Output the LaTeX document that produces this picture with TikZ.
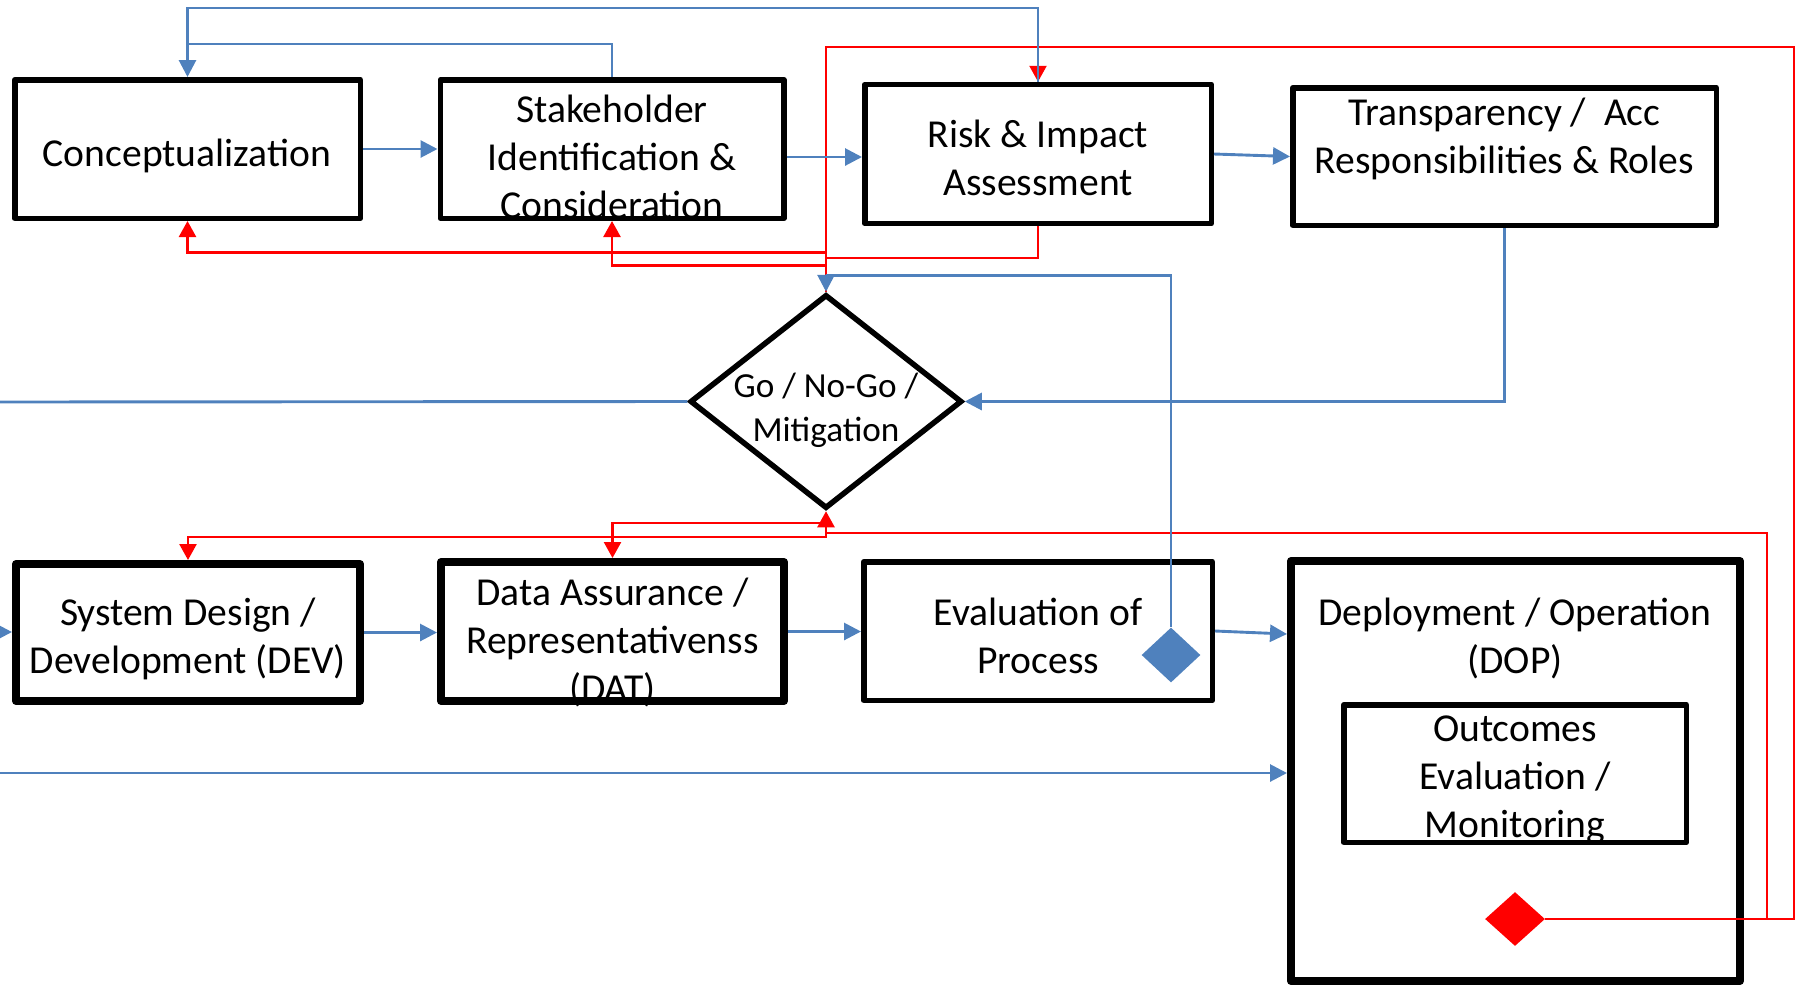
\documentclass[tikz,border=0pt]{standalone}
\usepackage{fontspec}
\setmainfont{Carlito}
\usetikzlibrary{arrows.meta,shapes.geometric}
\definecolor{ablue}{RGB}{79,129,189}
\tikzset{
  box/.style={draw=black, rectangle, line width=2.75pt, line join=round, inner sep=0pt},
  heavybox/.style={box, line width=4pt},
  gatebox/.style={draw=black, diamond, line width=2.75pt, inner sep=0pt},
  lbl/.style={align=center, inner sep=0pt, font=\fontsize{19.8pt}{24pt}\selectfont},
  smalllbl/.style={align=center, inner sep=0pt, font=\fontsize{17.6pt}{22pt}\selectfont},
  bline/.style={draw=ablue, line width=1.45pt},
  barrow/.style={bline, -{Triangle[length=8.5pt,width=8.5pt]}},
  rline/.style={draw=red, line width=1.2pt},
  rarrow/.style={rline, -{Triangle[length=8pt,width=8.5pt]}},
}
\begin{document}
\begin{tikzpicture}[x=0.5pt,y=-0.5pt]
\path[use as bounding box] (0,0) rectangle (1804,987);

% process boxes
\node[box, minimum width=172.75pt, minimum height=69.25pt] (concept) at (187.5,149) {};
\node[box, minimum width=171.75pt, minimum height=69.25pt] (stake) at (612,149) {};
\node[box, minimum width=173.25pt, minimum height=69.5pt] (risk) at (1038,154) {};
\node[box, minimum width=211.75pt, minimum height=68.75pt] (transp) at (1504.5,156.5) {};
\node[heavybox, minimum width=172pt, minimum height=68.5pt] (dev) at (188,632.5) {};
\node[heavybox, minimum width=171.5pt, minimum height=69.5pt] (dat) at (612.5,631.5) {};
\node[box, minimum width=174.25pt, minimum height=69.25pt] (eval) at (1038,631) {};
\node[heavybox, minimum width=224.5pt, minimum height=210pt] (dop) at (1515.5,771) {};
\node[box, minimum width=171.25pt, minimum height=68.75pt] (outc) at (1515,773.5) {};

% decision and markers
\node[gatebox, minimum width=136pt, minimum height=107pt] (gate) at (826,401.5) {};
\node[diamond, fill=ablue, inner sep=0pt, minimum width=29.5pt, minimum height=27.5pt] (bd) at (1171,655) {};
\node[diamond, fill=red, inner sep=0pt, minimum width=30pt, minimum height=27pt] (rd) at (1515,919) {};

% routing levels
\coordinate (yA) at (0,8);
\coordinate (yB) at (0,44);
\coordinate (yR) at (0,47);
\coordinate (ySR) at (0,157);
\coordinate (yC) at (0,252.5);
\coordinate (yRk) at (0,258);
\coordinate (yS) at (0,265.5);
\coordinate (yF) at (0,275.5);
\coordinate (yDa) at (0,523);
\coordinate (yM) at (0,533);
\coordinate (yDe) at (0,537);
\coordinate (yED) at (0,634);
\coordinate (xR1) at (1767,0);
\coordinate (xR2) at (1794,0);
\coordinate (inDev) at (-20,632);
\coordinate (inDop) at (-20,773);
\coordinate (outL) at (-20,402);

% red feedback paths
\draw[rline] (rd.east) -| (xR2 |- yR) -- (gate.north |- yR) -- (gate.north);
\draw[rarrow] (risk.north |- yR) -- (risk.north);
\draw[rarrow] (gate.north |- yC) -| (concept.south);
\draw[rarrow] (gate.north |- yS) -| (stake.south);
\draw[rline] (risk.south) |- (gate.north |- yRk);
\draw[rarrow] (rd.east) -| (xR1 |- yM) -- (gate.south |- yM) -- (gate.south);
\draw[rarrow] (gate.south |- yDa) -| (dat.north);
\draw[rarrow] (gate.south |- yM) -- (gate.south |- yDe) -| (dev.north);

% blue flow paths
\draw[barrow] (concept) -- (stake);
\draw[barrow] (stake.east |- ySR) -- (risk.west |- ySR);
\draw[barrow] (risk.east) -- (transp.west);
\draw[barrow] (transp.south) |- (gate.east);
\draw[bline] (gate.west) -- (outL);
\draw[bline] (stake.north) |- (concept.north |- yB);
\draw[barrow] (risk.north) |- (concept.north |- yA) -- (concept.north);
\draw[barrow] (bd.north) |- (gate.north |- yF) -- (gate.north);
\draw[barrow] (dev.east) -- (dev.east -| dat.west);
\draw[barrow] (dat.east) -- (dat.east -| eval.west);
\draw[barrow] (eval.east) -- (dop.west |- yED);
\draw[barrow] (inDev) -- (inDev -| dev.west);
\draw[barrow] (inDop) -- (inDop -| dop.west);

% labels
\node[lbl] (conceptT) at (187,156) {Conceptualization};
\node[lbl] (stakeT) at (612,157) {Stakeholder\\Identification \&\\Consideration};
\node[lbl] (riskT) at (1038,158) {Risk \& Impact\\Assessment};
\node[lbl] (transpT) at (1504.5,139) {Transparency /\ \ Acc\\Responsibilities \& Roles};
\node[smalllbl] (gateT) at (826,410) {Go / No-Go /\\Mitigation};
\node[lbl] (devT) at (188,639) {System Design /\\Development (DEV)};
\node[lbl] (datT) at (612.5,642) {Data Assurance /\\Representativenss\\(DAT)};
\node[lbl] (evalT) at (1038,636) {Evaluation of\\Process};
\node[lbl] (dopT) at (1515,638) {Deployment / Operation\\(DOP)};
\node[lbl] (outcT) at (1515,780) {Outcomes\\Evaluation /\\Monitoring};
\end{tikzpicture}
\end{document}
